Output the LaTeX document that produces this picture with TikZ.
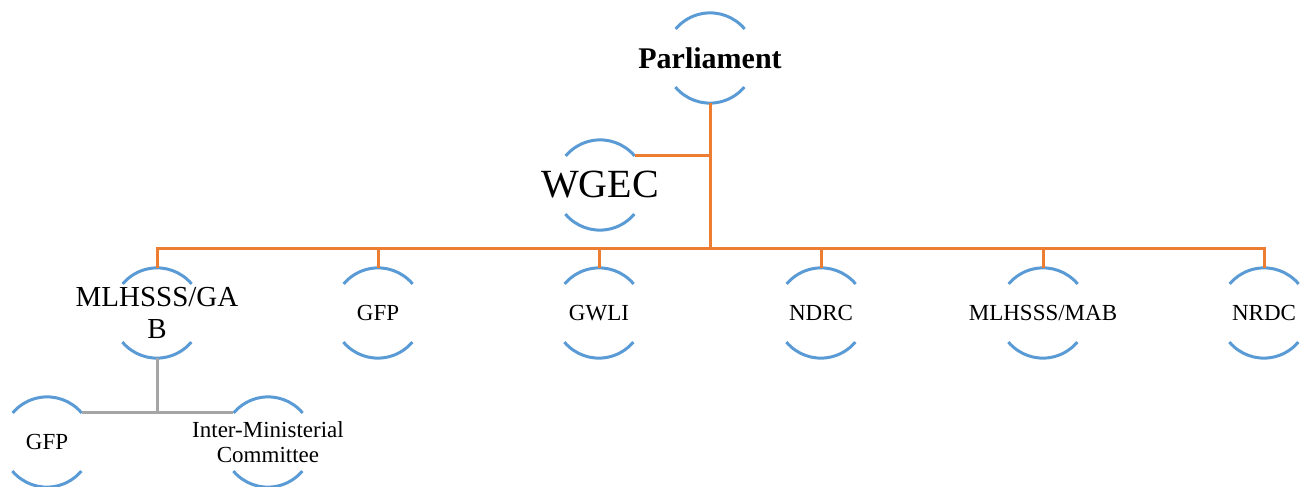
\documentclass[tikz,border=0pt]{standalone}
\usepackage{fontspec}
\setmainfont{Liberation Serif}
\definecolor{orgc}{HTML}{ED7D31}
\definecolor{bluec}{HTML}{5B9BD5}
\definecolor{gryc}{HTML}{A5A5A5}
\tikzset{
  ring/.style={circle, minimum size=90pt, inner sep=0pt, draw=none},
  arcline/.style={draw=bluec, line width=3pt},
  org/.style={draw=orgc, line width=3pt},
  gry/.style={draw=gryc, line width=3pt},
  lbl/.style={align=center, inner sep=0pt, font=\fontsize{23}{25}\selectfont},
}
\newcommand{\ringarcs}[1]{%
  \draw[arcline] (#1.40) arc[start angle=40, end angle=140, radius=45pt];
  \draw[arcline] (#1.220) arc[start angle=220, end angle=320, radius=45pt];}
\begin{document}
\begin{tikzpicture}[x=1pt,y=-1pt]
\useasboundingbox (0,0) rectangle (1304,487);
% rings
\node[ring] (parl) at (710,58) {};
\node[ring] (wgec) at (600,185) {};
\node[ring] (gab) at (157,313) {};
\node[ring] (gfpa) at (378,313) {};
\node[ring] (gwli) at (599,313) {};
\node[ring] (ndrc) at (821,313) {};
\node[ring] (mab) at (1043,313) {};
\node[ring] (nrdc) at (1264,313) {};
\node[ring] (gfpb) at (47,442) {};
\node[ring] (imc) at (268,442) {};
\foreach \n in {parl,wgec,gab,gfpa,gwli,ndrc,mab,nrdc,gfpb,imc}{\ringarcs{\n}}
% labels
\node[lbl, font=\bfseries\fontsize{30}{32}\selectfont] (parlT) at (parl) {Parliament};
\node[lbl, font=\fontsize{40}{42}\selectfont] (wgecT) at (wgec) {WGEC};
\node[lbl, font=\fontsize{29}{32}\selectfont] (gabT) at (gab) {MLHSSS/GA\\B};
\node[lbl] (gfpaT) at (gfpa) {GFP};
\node[lbl] (gwliT) at (gwli) {GWLI};
\node[lbl] (ndrcT) at (ndrc) {NDRC};
\node[lbl] (mabT) at (mab) {MLHSSS/MAB};
\node[lbl] (nrdcT) at (nrdc) {NRDC};
\node[lbl] (gfpbT) at (gfpb) {GFP};
\node[lbl] (imcT) at (imc) {Inter-Ministerial\\Committee};
% connectors
\coordinate (bus) at (710,248);
\draw[org] (parl.south) -- (bus);
\draw[org] (wgec.40) -- (wgec.40 -| parl.south);
\draw[org] (gab.north) -- (gab.north |- bus) -- (nrdc.north |- bus) -- (nrdc.north);
\foreach \n in {gfpa,gwli,ndrc,mab}{\draw[org] (\n.north |- bus) -- (\n.north);}
\draw[gry] (gab.south) -- (gab.south |- gfpb.40);
\draw[gry] (gfpb.40) -- (imc.140);
\end{tikzpicture}
\end{document}
